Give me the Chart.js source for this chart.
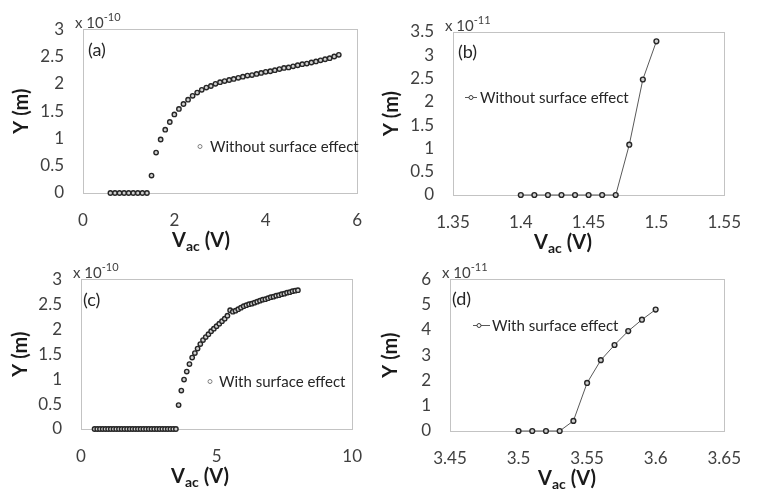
<!DOCTYPE html>
<html><head><meta charset="utf-8">
<script src="https://cdn.jsdelivr.net/npm/chart.js@4.4.1/dist/chart.umd.min.js"></script>
<style>
html,body{margin:0;padding:0;background:#fff;width:758px;height:495px;overflow:hidden}
.c{position:absolute}
</style></head><body>
<div class="c" style="left:0;top:0"><canvas id="ca" width="379" height="257"></canvas></div>
<div class="c" style="left:379px;top:0"><canvas id="cb" width="379" height="257"></canvas></div>
<div class="c" style="left:0;top:250px"><canvas id="cc" width="379" height="245"></canvas></div>
<div class="c" style="left:379px;top:250px"><canvas id="cd" width="379" height="245"></canvas></div>
<script>
// ---------- DATA ----------
const labelA = 'Without surface effect';
const labelB = 'Without surface effect';
const labelC = 'With surface effect';
const labelD = 'With surface effect';
const panelTags = ['(a)', '(b)', '(c)', '(d)'];
const expA = '-10', expB = '-11', expC = '-10', expD = '-11';

// Panel (a): Vac (V) vs Y (x 1e-10 m)
const xA = [0.6,0.7,0.8,0.9,1.0,1.1,1.2,1.3,1.4,1.5,1.6,1.7,1.8,1.9,2.0,2.1,2.2,2.3,2.4,2.5,2.6,2.7,2.8,2.9,3.0,3.1,3.2,3.3,3.4,3.5,3.6,3.7,3.8,3.9,4.0,4.1,4.2,4.3,4.4,4.5,4.6,4.7,4.8,4.9,5.0,5.1,5.2,5.3,5.4,5.5,5.6];
const yA = [0,0,0,0,0,0,0,0,0,0.32,0.74,0.98,1.16,1.30,1.44,1.54,1.63,1.71,1.78,1.84,1.89,1.93,1.96,2.00,2.03,2.05,2.07,2.09,2.11,2.13,2.15,2.16,2.18,2.20,2.22,2.23,2.25,2.27,2.29,2.30,2.32,2.34,2.36,2.37,2.39,2.41,2.43,2.45,2.47,2.50,2.53];

// Panel (b): zoom near onset (x 1e-11 m)
const xB = [1.40,1.41,1.42,1.43,1.44,1.45,1.46,1.47,1.48,1.49,1.50];
const yB = [0,0,0,0,0,0,0,0,1.08,2.48,3.30];

// Panel (c): with surface effect (x 1e-10 m)
const xC = [0.5,0.6,0.7,0.8,0.9,1.0,1.1,1.2,1.3,1.4,1.5,1.6,1.7,1.8,1.9,2.0,2.1,2.2,2.3,2.4,2.5,2.6,2.7,2.8,2.9,3.0,3.1,3.2,3.3,3.4,3.5,
  3.6,3.7,3.8,3.9,4.0,4.1,4.2,4.3,4.4,4.5,4.6,4.7,4.8,4.9,5.0,5.1,5.2,5.3,5.4,5.5,5.6,5.7,5.8,5.9,6.0,6.1,6.2,6.3,6.4,6.5,6.6,6.7,6.8,6.9,7.0,7.1,7.2,7.3,7.4,7.5,7.6,7.7,7.8,7.9,8.0];
const yC = [0,0,0,0,0,0,0,0,0,0,0,0,0,0,0,0,0,0,0,0,0,0,0,0,0,0,0,0,0,0,0,
  0.48,0.77,0.99,1.15,1.30,1.43,1.52,1.61,1.70,1.78,1.84,1.90,1.96,2.01,2.06,2.11,2.16,2.21,2.27,2.38,2.35,2.37,2.40,2.43,2.46,2.48,2.50,2.51,2.53,2.55,2.57,2.59,2.60,2.62,2.64,2.65,2.67,2.68,2.70,2.71,2.73,2.74,2.76,2.77,2.78];

// Panel (d): zoom near onset (x 1e-11 m)
const xD = [3.50,3.51,3.52,3.53,3.54,3.55,3.56,3.57,3.58,3.59,3.60];
const yD = [0,0,0,0,0.4,1.9,2.8,3.4,3.95,4.4,4.8];

// axis ranges / ticks
const xRangeA = [0, 6, 2],      yRangeA = [0, 3, 0.5];
const xRangeB = [1.35, 1.55, 0.05], yRangeB = [0, 3.5, 0.5];
const xRangeC = [0, 10, 5],     yRangeC = [0, 3, 0.5];
const xRangeD = [3.45, 3.65, 0.05], yRangeD = [0, 6, 1];

const xTitleParts = ['V', 'ac', ' (V)'];
const yTitle = 'Y (m)';

// ---------- RENDER ----------
Chart.defaults.font.family = 'Lato, "Open Sans", sans-serif';
Chart.defaults.color = '#404040';

function zip(xs, ys){ return xs.map((x,i)=>({x:x, y:ys[i]})); }
function fmt(v){ return String(Math.round(v*1000)/1000); }

const decor = {
  id: 'decor',
  beforeDatasetsDraw(chart){
    const a = chart.chartArea, ctx = chart.ctx;
    ctx.save();
    ctx.strokeStyle = '#c3c3c3'; ctx.lineWidth = 1;
    ctx.strokeRect(Math.round(a.left)+0.5, Math.round(a.top)+0.5, Math.round(a.right-a.left), Math.round(a.bottom-a.top));
    ctx.restore();
  },
  afterDraw(chart){
    const o = chart.options.plugins.decor, a = chart.chartArea, ctx = chart.ctx;
    ctx.save();
    ctx.textAlign = 'left'; ctx.textBaseline = 'alphabetic';
    // exponent label
    let x = a.left - 8, base = a.top - 1;
    ctx.fillStyle = '#404040';
    ctx.font = '15px Lato';
    ctx.fillText('x 10', x, base);
    x += ctx.measureText('x 10').width;
    ctx.font = '11px Lato';
    ctx.fillText(o.exp, x, base - 7);
    // panel tag
    ctx.fillStyle = '#262626';
    ctx.font = '18px Lato';
    ctx.fillText(o.tag, a.left + o.tagDx, a.top + o.tagDy);
    // x title with subscript
    const big = 'bold 20px Lato', small = 'bold 14px Lato';
    ctx.font = big; const w1 = ctx.measureText(xTitleParts[0]).width, w3 = ctx.measureText(xTitleParts[2]).width;
    ctx.font = small; const w2 = ctx.measureText(xTitleParts[1]).width;
    let tx = o.titleX - (w1+w2+w3)/2, tb = a.bottom + 54;
    ctx.fillStyle = '#1a1a1a';
    ctx.font = big; ctx.fillText(xTitleParts[0], tx, tb); tx += w1;
    ctx.font = small; ctx.fillText(xTitleParts[1], tx, tb + 4); tx += w2;
    ctx.font = big; ctx.fillText(xTitleParts[2], tx, tb);
    // legend
    const L = o.legend, ds = chart.data.datasets[0];
    if (L.line) {
      ctx.strokeStyle = '#595959'; ctx.lineWidth = 1;
      ctx.beginPath(); ctx.moveTo(L.x1, L.y+0.5); ctx.lineTo(L.x2, L.y+0.5); ctx.stroke();
    }
    ctx.beginPath(); ctx.arc(L.mx, L.y+0.5, 2, 0, Math.PI*2);
    ctx.fillStyle = '#ffffff'; ctx.fill();
    ctx.strokeStyle = L.line ? '#404040' : '#808080'; ctx.lineWidth = 1; ctx.stroke();
    ctx.fillStyle = '#262626'; ctx.font = '15px Lato'; ctx.textBaseline = 'middle';
    ctx.fillText(ds.label, L.tx, L.y + 1);
    ctx.restore();
  }
};

function makeChart(id, xs, ys, label, xr, yr, area, W, H, opts){
  const ds = {
    label: label,
    data: zip(xs, ys),
    showLine: !!opts.line,
    borderColor: '#595959',
    borderWidth: 1,
    pointRadius: opts.line ? 2.4 : 2.2,
    pointBorderWidth: 1.4,
    pointBorderColor: '#262626',
    pointBackgroundColor: '#d0d0d0',
    clip: false
  };
  return new Chart(document.getElementById(id), {
    type: 'scatter',
    data: { datasets: [ds] },
    options: {
      responsive: false, animation: false,
      layout: { padding: { left: 0, top: area.T, right: W - area.R, bottom: 0 } },
      plugins: {
        legend: { display: false }, tooltip: { enabled: false },
        decor: opts.decor
      },
      scales: {
        x: {
          type: 'linear', min: xr[0], max: xr[1],
          ticks: { stepSize: xr[2], autoSkip: false, maxRotation: 0, padding: 17, font: { size: 17 }, color: '#404040', callback: fmt },
          grid: { display: false, drawTicks: false },
          border: { display: false },
          afterFit(s){ s.height = H - area.B; }
        },
        y: {
          type: 'linear', min: yr[0], max: yr[1],
          ticks: { stepSize: yr[2], autoSkip: false, padding: 19, font: { size: 17 }, color: '#404040', callback: fmt },
          grid: { display: false, drawTicks: false },
          border: { display: false },
          title: { display: true, text: yTitle, color: '#1a1a1a', font: { size: 20, weight: 'bold' }, padding: { top: opts.yTitlePad, bottom: 0 } },
          afterFit(s){ s.width = area.L; }
        }
      }
    },
    plugins: [decor]
  });
}

makeChart('ca', xA, yA, labelA, xRangeA, yRangeA, {L:83, R:368, T:29, B:193}, 379, 257, {
  line: false, yTitlePad: 10,
  decor: { exp: expA, tag: panelTags[0], tagDx: 5, tagDy: 27, titleX: 201,
           legend: { line: false, mx: 200, y: 146, tx: 210 } }
});
makeChart('cb', xB, yB, labelB, xRangeB, yRangeB, {L:74, R:360, T:32, B:195}, 379, 257, {
  line: true, yTitlePad: 1,
  decor: { exp: expB, tag: panelTags[1], tagDx: 5, tagDy: 26, titleX: 184,
           legend: { line: true, x1: 86, x2: 98, mx: 92, y: 97, tx: 101 } }
});
makeChart('cc', xC, yC, labelC, xRangeC, yRangeC, {L:81, R:367, T:15, B:179}, 379, 245, {
  line: false, yTitlePad: 9,
  decor: { exp: expC, tag: panelTags[2], tagDx: 2, tagDy: 27, titleX: 200,
           legend: { line: false, mx: 210, y: 131, tx: 219 } }
});
makeChart('cd', xD, yD, labelD, xRangeD, yRangeD, {L:71, R:356, T:16, B:181}, 379, 245, {
  line: true, yTitlePad: 0,
  decor: { exp: expD, tag: panelTags[3], tagDx: 2, tagDy: 26, titleX: 188,
           legend: { line: true, x1: 94, x2: 111, mx: 100, y: 75, tx: 113 } }
});
</script>
</body></html>
